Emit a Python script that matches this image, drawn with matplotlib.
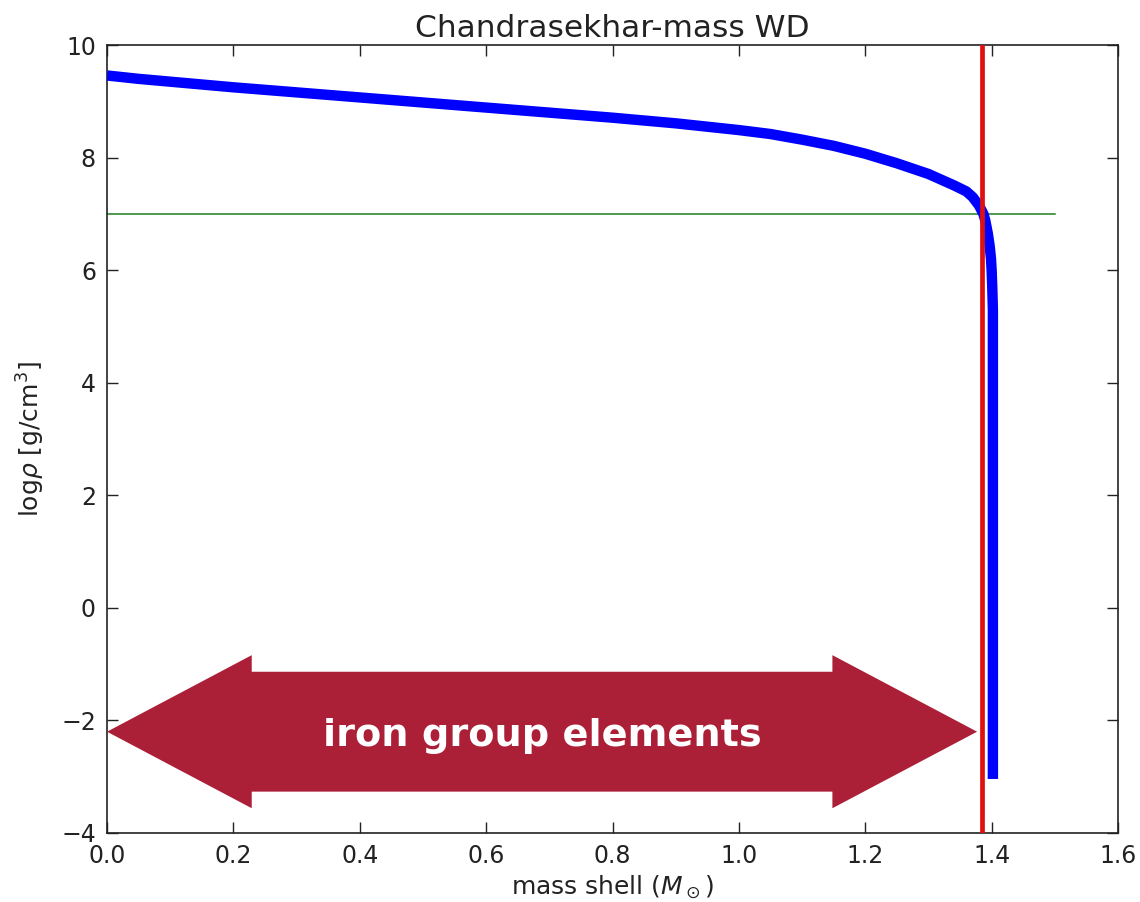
import matplotlib
matplotlib.use("Agg")
import matplotlib.pyplot as plt
from matplotlib.patches import Polygon

# density profile of the white dwarf (mass coordinate in M_sun, log10 rho in g/cm^3)
mass = [0.00, 0.05, 0.10, 0.20, 0.30, 0.40, 0.50, 0.60, 0.70, 0.80, 0.90,
        1.00, 1.05, 1.10, 1.15, 1.20, 1.25, 1.30, 1.34, 1.36, 1.37, 1.38,
        1.387, 1.39, 1.394, 1.397, 1.399, 1.400, 1.401, 1.402, 1.402]
log_rho = [9.46, 9.40, 9.35, 9.25, 9.16, 9.07, 8.98, 8.89, 8.80, 8.71, 8.61,
           8.49, 8.42, 8.32, 8.21, 8.07, 7.90, 7.71, 7.51, 7.40, 7.30, 7.15,
           7.00, 6.88, 6.65, 6.42, 6.20, 6.00, 5.70, 5.30, -3.04]

m_cut = 1.384          # vertical marker
rho_cut = 7.0          # horizontal marker
rho_cut_span = (0.0, 1.5)

# arrow spanning the iron-group zone
arrow_x = (0.0, 1.377)
arrow_y = -2.2
arrow_body_half = 1.065
arrow_head_half = 1.36
arrow_head_len = 0.229
arrow_text = "iron group elements"

fig = plt.figure(figsize=(11.4, 9.02), dpi=100)
ax = fig.add_axes([0.0939, 0.0765, 0.8868, 0.8735])

ax.plot(mass, log_rho, color="#0000ff", linewidth=7.5, solid_capstyle="butt",
        solid_joinstyle="round", zorder=3)
ax.axvline(m_cut, color="#e01010", linewidth=3.4, zorder=4)
ax.plot(rho_cut_span, [rho_cut, rho_cut], color="#1f7f1f", linewidth=1.1, zorder=2)

x0, x1 = arrow_x
pts = [
    (x0, arrow_y),
    (x0 + arrow_head_len, arrow_y + arrow_head_half),
    (x0 + arrow_head_len, arrow_y + arrow_body_half),
    (x1 - arrow_head_len, arrow_y + arrow_body_half),
    (x1 - arrow_head_len, arrow_y + arrow_head_half),
    (x1, arrow_y),
    (x1 - arrow_head_len, arrow_y - arrow_head_half),
    (x1 - arrow_head_len, arrow_y - arrow_body_half),
    (x0 + arrow_head_len, arrow_y - arrow_body_half),
    (x0 + arrow_head_len, arrow_y - arrow_head_half),
]
ax.add_patch(Polygon(pts, closed=True, facecolor="#ab1f37", edgecolor="none", zorder=5))
ax.text((x0 + x1) / 2, arrow_y - 0.07, arrow_text, color="white", fontsize=27.5,
        fontweight="bold", ha="center", va="center", family="DejaVu Sans", zorder=6)

ax.set_xlim(0, 1.6)
ax.set_ylim(-4, 10)
ax.set_xticks([0.0, 0.2, 0.4, 0.6, 0.8, 1.0, 1.2, 1.4, 1.6])
ax.set_yticks([-4, -2, 0, 2, 4, 6, 8, 10])
ax.tick_params(direction="in", length=8, width=1, top=True, right=True,
               labelsize=17, colors="#222222", pad=8)
for s in ax.spines.values():
    s.set_linewidth(1.2)
    s.set_color("#222222")

ax.set_title("Chandrasekhar-mass WD", fontsize=22.5, color="#222222", pad=6)
ax.set_xlabel(r"mass shell ($M_\odot$)", fontsize=18, color="#222222", labelpad=4)
ax.set_ylabel(r"log$\rho$ [g/cm$^3$]", fontsize=18, color="#222222", labelpad=10)

fig.savefig("out.png", dpi=100)
plt.close(fig)
